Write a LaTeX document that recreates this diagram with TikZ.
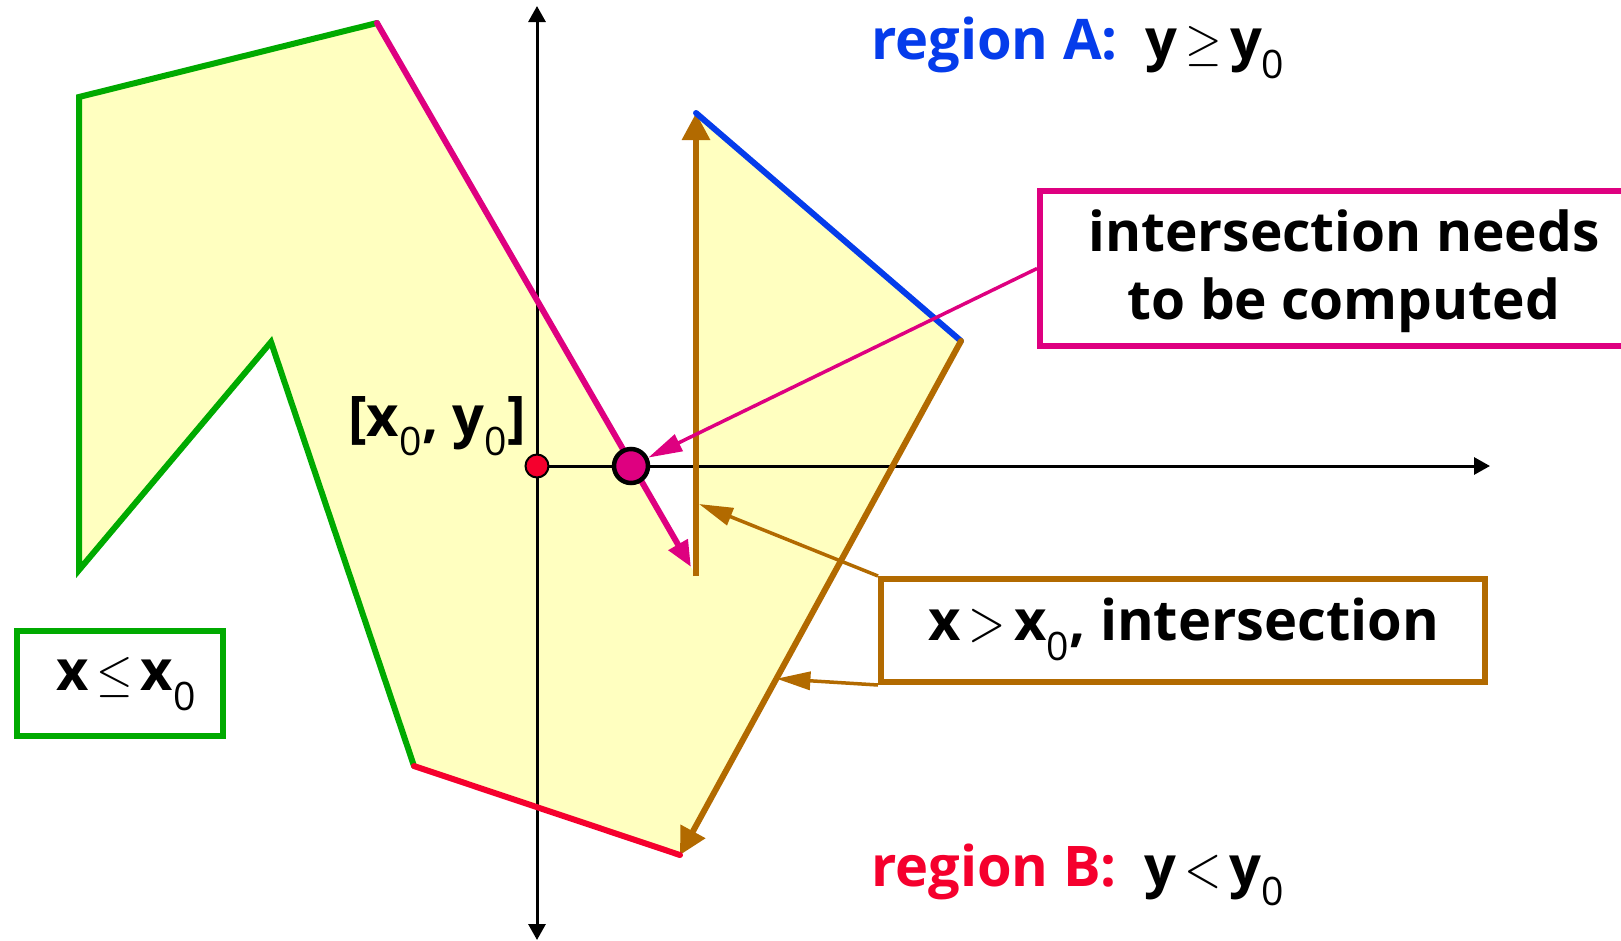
\documentclass[tikz,border=0pt]{standalone}
\usepackage{graphicx}
\usepackage{fontspec}
\setmainfont{Open Sans}
\usetikzlibrary{arrows.meta,calc}
\definecolor{polyfill}{RGB}{255,255,192}
\definecolor{pgreen}{RGB}{0,170,0}
\definecolor{pmag}{RGB}{222,0,128}
\definecolor{pblue}{RGB}{5,60,235}
\definecolor{pbrown}{RGB}{178,106,0}
\definecolor{pred}{RGB}{245,0,45}
\newcommand{\bigtxt}{\fontsize{56}{68}\selectfont\bfseries}
\newcommand{\xsub}[1]{\textsubscript{\mdseries #1}}
\newcommand{\relsym}[3]{\hspace{0.14em}\scalebox{#1}[#2]{\normalsize$#3$}\hspace{0.14em}}
\begin{document}
\begin{tikzpicture}[x=1pt,y=-1pt,
  edge/.style={line width=6pt,line cap=round},
  axis/.style={line width=3pt,-{Triangle[length=16pt,width=17pt]}},
  bighead/.style={-{Triangle[length=27pt,width=27pt]}},
  maghead/.style={-{Triangle[length=26pt,width=21pt]}},
  annot/.style={line width=3.5pt,-{Triangle[length=34pt,width=18pt]}},
  boxstyle/.style={draw,line width=6pt,rectangle,anchor=north west,inner sep=0pt},
  lbl/.style={font=\bigtxt,inner sep=0pt}]
\useasboundingbox (0,0) rectangle (1621,940);
% polygon vertices
\coordinate (A) at (377,23);
\coordinate (B) at (696,576);
\coordinate (Bm) at (691,567);
\coordinate (C) at (696,113);
\coordinate (D) at (961,341);
\coordinate (E) at (680,855);
\coordinate (F) at (414,766);
\coordinate (G) at (271,342);
\coordinate (H) at (79,570);
\coordinate (I) at (79,97);
\fill[polyfill] (A) -- (B) -- (C) -- (D) -- (E) -- (F) -- (G) -- (H) -- (I) -- cycle;
% axes
\coordinate (O) at (537,466);
\coordinate (Ytop) at (537,6);
\coordinate (Ybot) at (537,940);
\coordinate (Xend) at (1490,466);
\draw[line width=3pt,{Triangle[length=16pt,width=17pt]}-{Triangle[length=16pt,width=17pt]}] (Ybot) -- (Ytop);
\draw[axis] (O) -- (Xend);
% edges
\draw[edge,pgreen,line join=miter] (F) -- (G) -- (H) -- (I) -- (A);
\draw[edge,pmag,maghead] (A) -- (Bm);
\draw[edge,pbrown,line cap=butt,bighead] (B) -- (C);
\draw[edge,pblue] (C) -- (D);
\draw[edge,pbrown,bighead] (D) -- (E);
\draw[edge,pred] (E) -- (F);
% dots
\node[circle,fill=pred,draw=black,line width=2pt,minimum size=23pt,inner sep=0pt] (odot) at (O) {};
\node[circle,fill=pmag,draw=black,line width=4.5pt,minimum size=34pt,inner sep=0pt] (bigdot) at (631,466) {};
% labels
\node[lbl,anchor=base west] (xylbl) at (348,436) {[x\xsub{0}, y\xsub{0}]};
\node[lbl,anchor=base west] (regA) at (871,59) {\textcolor{pblue}{region A:}\hspace{0.5em}y\relsym{4.7}{5.2}{\geq}y\xsub{0}};
\node[lbl,anchor=base west] (regB) at (871,886) {\textcolor{pred}{region B:}\hspace{0.5em}y\relsym{4.8}{5.8}{<}y\xsub{0}};
% boxes
\node[boxstyle,pmag,minimum width=610pt,minimum height=155pt] (mbox) at (1037,188) {};
\node[lbl,align=center,font=\fontsize{55}{68}\selectfont\bfseries] (mtxt) at (1344,271) {intersection needs\\to be computed};
\node[boxstyle,pbrown,minimum width=604pt,minimum height=103pt] (bbox) at (878,576) {};
\node[lbl] (btxt) at (1184,629) {x\relsym{4.8}{5.8}{>}x\xsub{0}, intersection};
\node[boxstyle,pgreen,minimum width=206pt,minimum height=105pt] (gbox) at (14,628) {};
\node[lbl] (gtxt) at (126,684) {x\relsym{4.7}{5.2}{\leq}x\xsub{0}};
% annotation arrows
\coordinate (hitBC) at (699,504);
\coordinate (hitDE) at ($(D)!0.657!(E)$);
\draw[annot,pmag] (mbox.west) -- (bigdot);
\draw[annot,pbrown] (bbox.north west) -- (hitBC);
\draw[annot,pbrown] (bbox.south west) -- (hitDE);
\end{tikzpicture}
\end{document}
